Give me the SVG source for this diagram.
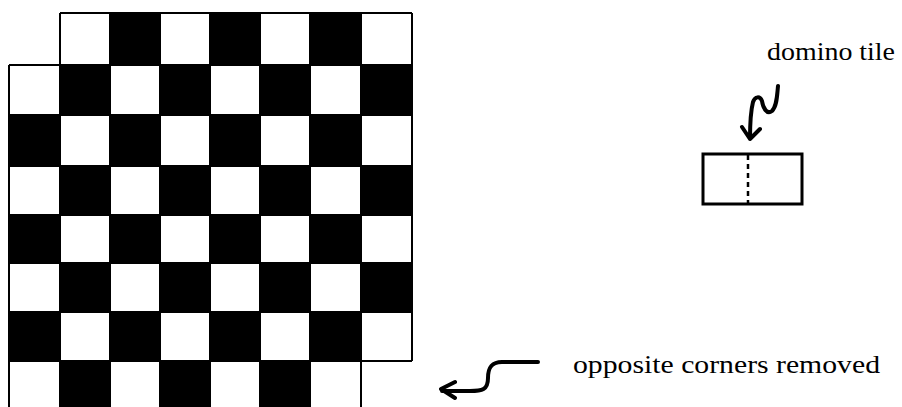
<svg xmlns="http://www.w3.org/2000/svg" width="902" height="407" viewBox="0 0 902 407">
<style>
.blk{fill:#000}
.grid{fill:none;stroke:#000;stroke-width:2}
.lbl{font-family:"Liberation Serif",serif;font-size:25px;fill:#000}
.arrow{fill:none;stroke:#000;stroke-width:4;stroke-linecap:round;stroke-linejoin:round}
</style>
<rect width="902" height="407" fill="#fff"/>
<g id="board">
<path class="blk" d="M110 13h50v52h-50zM210 13h50v52h-50zM310 13h51v52h-51z
M60 65h50v50h-50zM160 65h50v50h-50zM260 65h50v50h-50zM361 65h51v50h-51z
M9 115h51v51h-51zM110 115h50v51h-50zM210 115h50v51h-50zM310 115h51v51h-51z
M60 166h50v49h-50zM160 166h50v49h-50zM260 166h50v49h-50zM361 166h51v49h-51z
M9 215h51v48h-51zM110 215h50v48h-50zM210 215h50v48h-50zM310 215h51v48h-51z
M60 263h50v49h-50zM160 263h50v49h-50zM260 263h50v49h-50zM361 263h51v49h-51z
M9 312h51v49h-51zM110 312h50v49h-50zM210 312h50v49h-50zM310 312h51v49h-51z
M60 361h50v49h-50zM160 361h50v49h-50zM260 361h50v49h-50z"/>
<path class="grid" d="M60 13H412M9 65H412M9 115H412M9 166H412M9 215H412M9 263H412M9 312H412M9 361H412
M9 65V410M60 13V410M110 13V410M160 13V410M210 13V410M260 13V410M310 13V410M361 13V410M412 13V361"/>
</g>
<g id="domino">
<rect x="703" y="154" width="99" height="50" fill="#fff" stroke="#000" stroke-width="3"/>
<line x1="748" y1="155" x2="748" y2="203" stroke="#000" stroke-width="2.5" stroke-dasharray="5,4"/>
</g>
<g id="labels">
<text class="lbl" x="767" y="60" textLength="128" lengthAdjust="spacingAndGlyphs">domino tile</text>
<text class="lbl" x="573" y="373" textLength="307" lengthAdjust="spacingAndGlyphs">opposite corners removed</text>
</g>
<g id="connectors">
<path class="arrow" d="M778 86C777 96 777 106 772 111C767 115 763 108 762 101C760 96 755 96 753 102C751 110 750 125 750 139M742 127L750 139L760 129"/>
<path class="arrow" d="M538 362H502C490 362 488 370 488 378C488 390 482 391 470 391H442M455 382L441 389L455 398"/>
</g>
</svg>
